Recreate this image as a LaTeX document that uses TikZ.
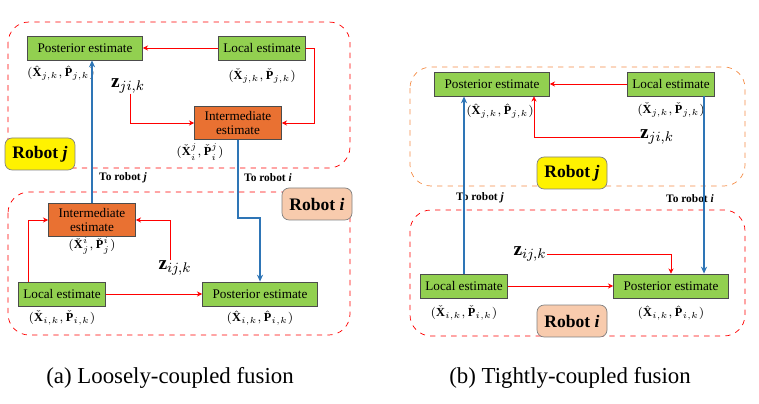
\documentclass[tikz,border=0pt]{standalone}
\usepackage{fontspec}
\setmainfont{Liberation Serif}
\usetikzlibrary{arrows.meta}
\definecolor{boxgreen}{RGB}{146,208,80}
\definecolor{boxorange}{RGB}{233,113,50}
\definecolor{linkblue}{RGB}{46,117,182}
\definecolor{robotpink}{RGB}{248,203,173}
\definecolor{dashorange}{RGB}{244,140,70}
\tikzstyle{est-node}=[fill=boxgreen,draw=black!70,inner sep=1pt,minimum height=0.48cm,font=\fontsize{7.5}{8.5}\selectfont]
\tikzstyle{mid-node}=[fill=boxorange,draw=black!70,inner sep=1pt,minimum width=1.74cm,minimum height=0.66cm,align=center,font=\fontsize{7.5}{8.5}\selectfont]
\tikzstyle{robot-node}=[draw=black!50,rounded corners=4pt,minimum width=1.4cm,minimum height=0.64cm,font=\fontsize{10}{12}\selectfont\bfseries]
\tikzstyle{val-node}=[inner sep=0pt,font=\fontsize{7}{8}\selectfont]
\tikzstyle{z-node}=[inner sep=0pt,font=\fontsize{11}{13}\selectfont]
\tikzstyle{send-node}=[inner sep=0pt,font=\fontsize{6.5}{8}\selectfont\bfseries]
\tikzstyle{red-line}=[draw=red,-{Stealth[length=3pt,width=3pt]}]
\tikzstyle{blue-line}=[draw=linkblue,line width=1.2pt,-{Stealth[length=4pt,width=3.5pt]}]
\tikzstyle{group-box}=[dashed,rounded corners=12pt,thin]

\begin{document}
\begin{tikzpicture}[x=0.02cm,y=-0.02cm]
	\useasboundingbox (0,0) rectangle (759,404);
	% loosely-coupled fusion
	\begin{scope}
	\draw[group-box,red] (8,22) rectangle (350,168);
	\draw[group-box,red] (8,192) rectangle (350,335);
	\node (pj)[est-node,minimum width=2.3cm] at (85,48) {Posterior estimate};
	\node (lj)[est-node,minimum width=1.74cm] at (262,48) {Local estimate};
	\node (mj)[mid-node] at (238,123) {Intermediate\\estimate};
	\node (mi)[mid-node] at (92,220) {Intermediate\\estimate};
	\node (li)[est-node,minimum width=1.74cm] at (62,294) {Local estimate};
	\node (pi)[est-node,minimum width=2.3cm] at (260,294) {Posterior estimate};
	\node[val-node] at (61,73) {$(\hat{\mathbf{X}}_{j,k},\hat{\mathbf{P}}_{j,k})$};
	\node[val-node] at (262,76) {$(\check{\mathbf{X}}_{j,k},\check{\mathbf{P}}_{j,k})$};
	\node[val-node] at (200,152) {$(\check{\mathbf{X}}^{j}_{i},\check{\mathbf{P}}^{j}_{i})$};
	\node[val-node] at (92,246) {$(\check{\mathbf{X}}^{i}_{j},\check{\mathbf{P}}^{i}_{j})$};
	\node[val-node] at (62,318) {$(\check{\mathbf{X}}_{i,k},\check{\mathbf{P}}_{i,k})$};
	\node[val-node] at (260,318) {$(\hat{\mathbf{X}}_{i,k},\hat{\mathbf{P}}_{i,k})$};
	\node (zji)[z-node] at (128,86) {$\mathbf{z}_{ji,k}$};
	\node (zij)[z-node] at (175,268) {$\mathbf{z}_{ij,k}$};
	\node[robot-node,fill=yellow] at (40,154) {Robot \textit{j}};
	\node[robot-node,fill=robotpink] at (317,204) {Robot \textit{i}};
	\node[send-node] at (123,178) {To robot \textit{j}};
	\node[send-node] at (268,178) {To robot \textit{i}};
	\end{scope}

	\begin{scope}
	\path[red-line] (lj) -- (pj);
	\path[red-line] (lj.east) -- ++(9,0) |- (mj.east);
	\path[red-line] (zji.south) ++(2,0) |- (mj.west);
	\path[red-line] (li.north west) ++(10,0) |- (mi.west);
	\path[red-line] (zij.north) ++(-5,0) |- (mi.east);
	\path[red-line] (li) -- (pi);
	\path[blue-line] (mi.north) -- (pj.south -| mi.north);
	\path[blue-line] (mj.south) -- ++(0,78) -| (pi.north);
	\end{scope}

	% tightly-coupled fusion
	\begin{scope}
	\draw[group-box,dashorange] (410,67) rectangle (745,186);
	\draw[group-box,red] (410,210) rectangle (745,336);
	\node (qj)[est-node,minimum width=2.3cm] at (492,84) {Posterior estimate};
	\node (kj)[est-node,minimum width=1.74cm] at (671,84) {Local estimate};
	\node (ki)[est-node,minimum width=1.74cm] at (464,286) {Local estimate};
	\node (qi)[est-node,minimum width=2.3cm] at (671,286) {Posterior estimate};
	\node[val-node] at (500,111) {$(\hat{\mathbf{X}}_{j,k},\hat{\mathbf{P}}_{j,k})$};
	\node[val-node] at (671,110) {$(\check{\mathbf{X}}_{j,k},\check{\mathbf{P}}_{j,k})$};
	\node[val-node] at (464,313) {$(\check{\mathbf{X}}_{i,k},\check{\mathbf{P}}_{i,k})$};
	\node[val-node] at (671,313) {$(\hat{\mathbf{X}}_{i,k},\hat{\mathbf{P}}_{i,k})$};
	\node (yji)[z-node] at (657,137) {$\mathbf{z}_{ji,k}$};
	\node (yij)[z-node] at (530,254) {$\mathbf{z}_{ij,k}$};
	\node[robot-node,fill=yellow] at (572,173) {Robot \textit{j}};
	\node[robot-node,fill=robotpink] at (572,321) {Robot \textit{i}};
	\node[send-node] at (480,198) {To robot \textit{j}};
	\node[send-node] at (690,199) {To robot \textit{i}};
	\end{scope}

	\begin{scope}
	\path[red-line] (kj) -- (qj);
	\path[red-line] (yji.west) -| ([xshift=0.84cm]qj.south);
	\path[red-line] (yij.east) -| (qi.north);
	\path[red-line] (ki) -- (qi);
	\path[blue-line] (ki.north) -- (qj.south -| ki.north);
	\path[blue-line] ([xshift=0.66cm]kj.south) -- ([xshift=0.66cm]qi.north);
	\end{scope}

	\node (capa) at (170,378) {\fontsize{13}{15}\selectfont (a) Loosely-coupled fusion};
	\node (capb) at (570,378) {\fontsize{13}{15}\selectfont (b) Tightly-coupled fusion};
\end{tikzpicture}
\end{document}
